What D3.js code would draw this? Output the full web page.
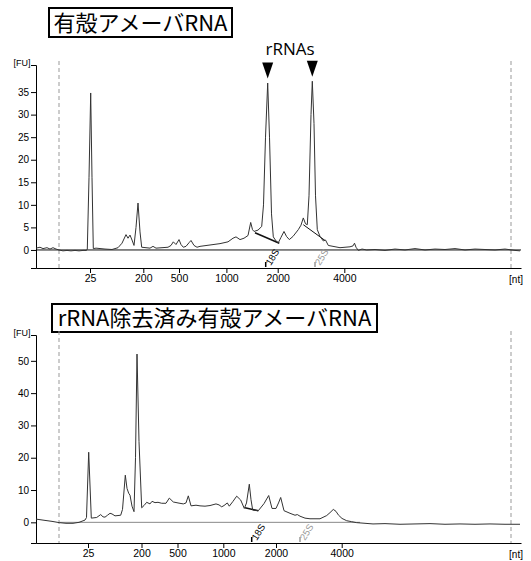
<!DOCTYPE html>
<html>
<head>
<meta charset="utf-8">
<script src="https://cdn.jsdelivr.net/npm/d3@7"></script>
<style>
body{margin:0;background:#fff}
text{font-family:"Liberation Sans",Arial,sans-serif}
</style>
</head>
<body>
<svg></svg>
<script>

var screen = {width:531,height:561}

// size ladder: tick labels and the migration time [s] where each one sits
var ladderLabels = ["25","200","500","1000","2000","4000"]
var topLadderTimes = [24.4,29.73,33.3,38.04,43.17,49.83]
var bottomLadderTimes = [24.2,29.55,33.15,37.73,43.0,49.57]

var topTicksFU = [0,5,10,15,20,25,30,35]
var bottomTicksFU = [0,10,20,30,40,50]

// lower / upper marker (dashed lines)
var markerTimes = [21.3,66.5]

// ribosomal labels on the x axis
var topRibo = [["18S",41.97],["25S",46.9]]
var bottomRibo = [["18S",40.57],["25S",45.4]]

// the two rRNA peaks flagged with arrows
var rrnaPeakTimes = [42.17,46.63]
var rrnaPeakFU = [37.0,37.4]

// electropherogram, [time s, FU]
var topTrace = [
[19.0,0.4],[19.4,0.6],[19.7,0.3],[20.1,0.5],[20.4,0.2],[20.7,0.5],[21.0,0.2],[21.3,0.0],
[21.7,-0.2],[22.1,-0.1],[22.5,-0.2],[22.9,-0.1],[23.3,-0.2],[23.7,-0.1],[24.05,-0.1],
[24.13,0.2],[24.3,16],[24.47,34.8],[24.6,16],[24.73,0.3],
[25.0,0.4],[25.9,0.2],[26.6,0.1],[27.2,0.5],[27.6,1.5],[28.0,3.4],[28.2,2.6],[28.4,3.3],
[28.6,2.2],[28.8,1.0],[29.0,5],[29.2,10.4],[29.4,4],[29.57,0.6],
[30.0,0.5],[30.4,0.4],[30.7,0.8],[31.0,0.4],[31.6,0.5],[32.2,0.6],[32.5,1.0],[32.73,1.8],
[33.0,1.2],[33.3,2.3],[33.5,1.2],[33.73,0.6],[34.0,0.8],[34.3,1.6],[34.5,2.1],[34.8,1.0],
[35.1,0.6],[35.4,0.8],[36.4,1.1],[37.4,1.4],[38.2,1.8],[38.7,2.6],[39.0,2.9],[39.4,2.3],
[39.8,2.6],[40.2,3.2],[40.47,6.1],[40.65,4.5],[40.8,4.1],[41.2,4.4],[41.57,5.2],
[41.75,10],[41.95,25],[42.17,37.0],[42.35,25],[42.55,8],[42.73,2.9],
[43.0,2.0],[43.23,1.6],[43.5,2.8],[43.8,4.1],[44.05,3.0],[44.33,2.3],[44.7,3.0],[45.23,4.5],
[45.5,5.5],[45.73,7.1],[45.95,5.8],[46.13,5.6],[46.3,12],[46.5,30],[46.63,37.4],[46.8,28],
[46.95,12],[47.13,4.5],[47.4,3.0],[47.73,2.0],[47.95,2.2],[48.23,1.0],[48.7,0.8],[49.4,0.5],
[50.4,0.7],[50.7,0.9],[50.85,1.5],[51.0,0.6],[51.23,-0.1],[51.6,0.2],[52.07,0.0],
[52.9,0.1],[53.9,-0.1],[54.9,0.2],[55.9,0.0],[56.9,0.3],[57.9,0.0],[58.9,0.2],[59.9,0.1],
[60.9,0.3],[61.9,0.0],[62.9,0.2],[63.9,0.1],[64.9,0.0],[65.9,0.2],[66.9,-0.1],[67.4,-0.2]
]

var bottomTrace = [
[19.0,1.0],[19.9,0.6],[20.6,0.3],[21.33,-0.1],[22.0,-0.3],[22.7,-0.3],[23.3,0.0],[23.9,0.7],
[24.05,1.5],[24.27,21.7],[24.53,1.3],[25.07,1.5],[25.47,2.4],[25.7,1.7],[25.9,1.6],[26.15,2.2],
[26.4,2.8],[26.6,2.6],[26.9,2.0],[27.47,2.2],[27.65,4],[27.93,14.6],[28.1,10.5],[28.27,9.0],
[28.4,8.4],[28.6,5],[28.8,3.3],[28.95,20],[29.1,52.1],[29.3,25],[29.57,4.5],
[29.8,5.2],[30.07,6.2],[30.4,5.7],[30.6,6.5],[30.9,6.1],[31.2,6.2],[31.57,5.9],[32.0,5.9],
[32.33,7.5],[32.73,6.3],[33.2,6.0],[33.73,5.7],[34.0,6.0],[34.23,8.2],[34.5,5.1],[35.0,5.3],
[35.4,5.1],[35.9,5.0],[36.4,5.2],[37.0,5.7],[37.3,5.4],[37.57,4.8],[37.8,5.2],[38.13,6.0],
[38.33,5.0],[38.7,6.5],[39.07,8.1],[39.47,6.9],[39.83,4.3],[40.05,6],[40.33,11.8],[40.5,7],
[40.67,3.8],[41.23,3.6],[41.8,5.8],[42.27,8.3],[42.6,4.3],[43.0,4.3],[43.25,6],[43.47,7.7],
[43.8,3.6],[44.4,2.8],[44.9,2.2],[45.13,2.4],[45.4,1.9],[45.9,1.3],[46.4,1.1],[47.4,1.1],
[48.07,2.1],[48.4,3.0],[48.73,4.0],[49.0,3.4],[49.23,2.3],[49.6,1.2],[50.07,0.5],[50.57,0.2],
[51.07,-0.1],[51.9,-0.3],[52.7,-0.5],[53.9,-0.4],[55.4,-0.6],[56.9,-0.5],[58.4,-0.4],
[59.9,-0.6],[61.4,-0.5],[62.9,-0.6],[64.4,-0.5],[65.9,-0.6],[67.4,-0.6]
]

// peak integration baselines [t1, fu1, t2, fu2]
var topIntegration = [[40.9,3.8,43.33,1.5],[45.73,5.6,47.9,2.1]]
var bottomIntegration = [[39.9,4.5,41.23,3.6]]


var timeDomain = [19,67.5]

var panels = [
    {title:"有殻アメーバRNA", box:{x:49,y:8,w:183,h:29},
     top:65, bottom:268, fu:[-4,41], ticks:topTicksFU, ladder:topLadderTimes,
     trace:topTrace, ribo:topRibo, integ:topIntegration,
     zero:{from:19,to:67.5,color:"#111"}},
    {title:"rRNA除去済み有殻アメーバRNA", box:{x:52,y:304,w:325,h:28},
     top:335, bottom:543, fu:[-6.4,58], ticks:bottomTicksFU, ladder:bottomLadderTimes,
     trace:bottomTrace, ribo:bottomRibo, integ:bottomIntegration,
     zero:{from:21.3,to:51.4,color:"#888"}}
]

var svg = d3.select("svg")
    .attr("width",screen.width)
    .attr("height",screen.height)

var xScale = d3.scaleLinear()
    .domain(timeDomain)
    .range([36,521])

var drawPanel = function(p, idx)
{
    var g = svg.append("g").attr("class","panel"+idx)

    var yScale = d3.scaleLinear()
        .domain(p.fu)
        .range([p.bottom,p.top])

    // title box
    g.append("rect")
        .attr("x",p.box.x).attr("y",p.box.y)
        .attr("width",p.box.w).attr("height",p.box.h)
        .attr("fill","#fff").attr("stroke","#000").attr("stroke-width",2)
    g.append("text")
        .attr("x",p.box.x+p.box.w/2).attr("y",p.box.y+p.box.h/2+8)
        .attr("text-anchor","middle")
        .style("font-family","'Noto Sans CJK JP',sans-serif")
        .style("font-size","22px")
        .text(p.title)

    // dashed marker lines
    g.selectAll(".marker")
        .data(markerTimes)
        .enter()
        .append("line")
        .attr("x1",function(d){return xScale(d)})
        .attr("x2",function(d){return xScale(d)})
        .attr("y1",p.top-4)
        .attr("y2",p.bottom)
        .attr("stroke","#999")
        .attr("stroke-dasharray","4,3")

    // zero line
    g.append("line")
        .attr("x1",xScale(p.zero.from)).attr("x2",xScale(p.zero.to))
        .attr("y1",yScale(0)).attr("y2",yScale(0))
        .attr("stroke",p.zero.color)

    // axes
    var yAxis = d3.axisLeft(yScale).tickValues(p.ticks).tickSize(5).tickSizeOuter(5).tickPadding(2)
    var ya = g.append("g")
        .attr("transform","translate(36,0)")
        .call(yAxis)
    ya.selectAll("text").style("font-size","10px")

    var xAxis = d3.axisBottom(xScale)
        .tickValues(p.ladder)
        .tickFormat(function(d,i){return ladderLabels[i]})
        .tickSize(5).tickSizeOuter(0).tickPadding(2)
    var xa = g.append("g")
        .attr("transform","translate(0,"+p.bottom+")")
        .call(xAxis)
    xa.selectAll("text").style("font-size","10.5px")
    svg.selectAll(".domain").attr("stroke","#000")

    g.append("text")
        .attr("x",22).attr("y",p.top+1)
        .attr("text-anchor","middle")
        .style("font-size","9px")
        .text("[FU]")
    g.append("text")
        .attr("x",516).attr("y",p.bottom+15)
        .attr("text-anchor","middle")
        .style("font-size","10px")
        .text("[nt]")

    // 18S / 25S flags
    var rib = g.selectAll(".ribo")
        .data(p.ribo)
        .enter()
        .append("g")
        .attr("transform",function(d){return "translate("+xScale(d[1])+","+p.bottom+")"})
    rib.append("line")
        .attr("y1",-1).attr("y2",-6)
        .attr("stroke",function(d,i){return i==0 ? "#000" : "#999"})
        .attr("stroke-width",1.5)
    rib.append("text")
        .attr("transform","translate(5,-2) rotate(-58)")
        .style("font-size","9.5px")
        .attr("fill",function(d,i){return i==0 ? "#000" : "#999"})
        .text(function(d){return d[0]})

    // integration baselines
    g.selectAll(".integ")
        .data(p.integ)
        .enter()
        .append("line")
        .attr("x1",function(d){return xScale(d[0])})
        .attr("y1",function(d){return yScale(d[1])})
        .attr("x2",function(d){return xScale(d[2])})
        .attr("y2",function(d){return yScale(d[3])})
        .attr("stroke","#111")
        .attr("stroke-width",function(d,i){return i==0 ? 1.6 : 1})

    // trace
    var line = d3.line()
        .x(function(d){return xScale(d[0])})
        .y(function(d){return yScale(d[1])})
    g.append("path")
        .datum(p.trace)
        .attr("d",line)
        .attr("fill","none")
        .attr("stroke","#333")
        .attr("stroke-width",1)

    return yScale
}

var yTop = drawPanel(panels[0],0)
drawPanel(panels[1],1)

// rRNA arrows on the first panel
svg.selectAll(".arrow")
    .data(rrnaPeakTimes)
    .enter()
    .append("path")
    .attr("d",function(d,i){
        var x = xScale(d)
        var tip = yTop(rrnaPeakFU[i]) - 4.5
        return "M"+(x-5.5)+","+(tip-16)+"L"+(x+5.5)+","+(tip-16)+"L"+x+","+tip+"Z"
    })
    .attr("fill","#000")

svg.append("text")
    .attr("x",d3.mean(rrnaPeakTimes,function(d){return xScale(d)}))
    .attr("y",55)
    .attr("text-anchor","middle")
    .style("font-family","'Open Sans',sans-serif")
    .style("font-size","17px")
    .text("rRNAs")

</script>
</body>
</html>
